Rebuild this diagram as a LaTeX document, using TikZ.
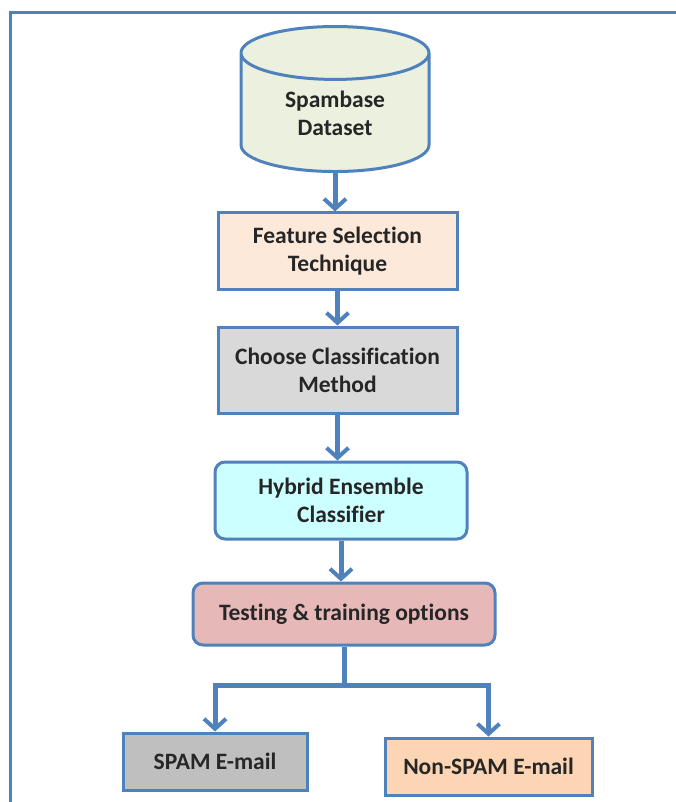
\documentclass[tikz,border=0pt]{standalone}
\usepackage{fontspec}
\setmainfont{Carlito}[Ligatures=NoCommon]
\usetikzlibrary{shapes.geometric,arrows.meta}
\definecolor{edgeblue}{HTML}{4F81BD}
\definecolor{dbfill}{HTML}{EBF1DE}
\definecolor{featfill}{HTML}{FDE9D9}
\definecolor{choosefill}{HTML}{D9D9D9}
\definecolor{hybridfill}{HTML}{CCFFFF}
\definecolor{testfill}{HTML}{E6B9B8}
\definecolor{spamfill}{HTML}{BFBFBF}
\definecolor{hamfill}{HTML}{FCD5B4}
\tikzset{
  stage/.style={draw=edgeblue, line width=3pt, align=center, inner sep=0pt,
    font=\bfseries\fontsize{23.5}{28}\selectfont, text=black!85},
  db/.style={stage, cylinder, shape border rotate=90, shape aspect=.53,
    fill=dbfill, minimum width=188, minimum height=145},
  flow/.style={draw=edgeblue, line width=5pt,
    -{Straight Barb[length=10pt,width=22pt,line width=4pt]}},
}
\begin{document}
\begin{tikzpicture}[x=1pt,y=-1pt]
  \useasboundingbox (0,0) rectangle (676,802);
  \draw[edgeblue, line width=3pt] (10,802) -- (10,13) -- (676,13);

  \node[db] (data) at (335,113) {Spambase\\Dataset};
  \node[stage, fill=featfill, minimum width=239, minimum height=76] (feat) at (337.5,251) {Feature Selection\\Technique};
  \node[stage, fill=choosefill, minimum width=239, minimum height=86] (choose) at (337.5,370) {Choose Classification\\Method};
  \node[stage, rounded corners=10pt, fill=hybridfill, minimum width=252, minimum height=77] (hybrid) at (341,500.5) {Hybrid Ensemble\\Classifier};
  \node[stage, rounded corners=10pt, fill=testfill, minimum width=302, minimum height=62] (test) at (344,614) {Testing \& training options};
  \node[stage, fill=spamfill, minimum width=184, minimum height=57] (spam) at (215,761.5) {SPAM E-mail};
  \node[stage, fill=hamfill, minimum width=207, minimum height=57] (ham) at (488.5,766.5) {Non-SPAM E-mail};

  \draw[flow] (data) -- (data |- feat.north);
  \draw[flow] (feat) -- (choose);
  \draw[flow] (choose.south) -- (choose.south |- hybrid.north);
  \draw[flow] (hybrid.south) -- (hybrid.south |- test.north);
  \draw[edgeblue, line width=5pt] (test.south) -- ++(0,39) coordinate (fork);
  \draw[flow] (fork) -| (spam.north);
  \draw[flow] (fork) -| (ham.north);
\end{tikzpicture}
\end{document}
